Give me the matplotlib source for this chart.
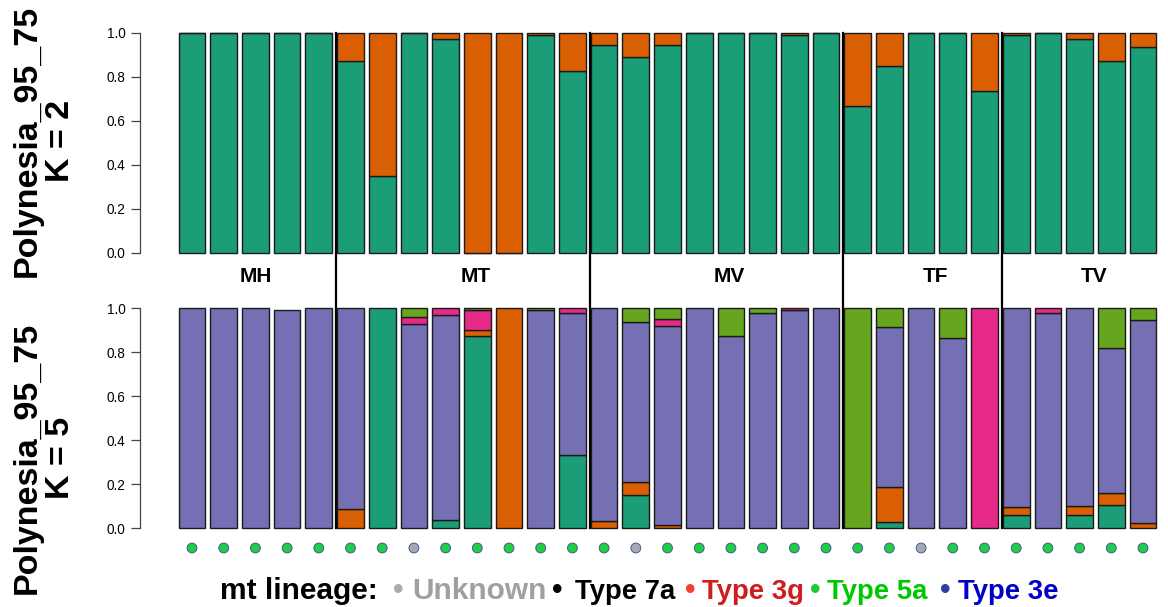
import matplotlib
matplotlib.use("Agg")
import matplotlib.pyplot as plt
import numpy as np

plt.rcParams['font.family'] = ['Liberation Sans', 'DejaVu Sans']

# ---------------- data ----------------
groups = ["MH", "MT", "MV", "TF", "TV"]
group_sizes = [5, 8, 8, 5, 5]

# K = 2 : proportion of cluster 1 (teal); remainder is cluster 2 (orange)
k2_c1 = [1.0, 1.0, 1.0, 1.0, 1.0,
         0.873, 0.351, 1.0, 0.973, 0.0, 0.0, 0.99, 0.829,
         0.947, 0.889, 0.944, 1.0, 1.0, 1.0, 0.99, 1.0,
         0.668, 0.849, 1.0, 1.0, 0.736,
         0.992, 1.0, 0.973, 0.873, 0.936]

# K = 5 : cluster proportions (teal, orange, purple, pink, green)
k5_teal = [0, 0, 0, 0, 0,
           0, 1.0, 0, 0.035, 0.871, 0, 0, 0.331,
           0, 0.149, 0, 0, 0, 0, 0, 0,
           0, 0.026, 0, 0, 0,
           0.059, 0, 0.061, 0.105, 0]
k5_orange = [0, 0, 0, 0, 0,
             0.085, 0, 0, 0, 0.030, 1.0, 0, 0,
             0.033, 0.062, 0.015, 0, 0, 0, 0, 0,
             0, 0.162, 0, 0, 0,
             0.038, 0, 0.041, 0.055, 0.024]
k5_purple = [1.0, 1.0, 1.0, 0.989, 1.0,
             0.915, 0, 0.927, 0.935, 0, 0, 0.991, 0.645,
             0.967, 0.727, 0.901, 1.0, 0.875, 0.977, 0.992, 1.0,
             0, 0.725, 1.0, 0.863, 0,
             0.903, 0.976, 0.898, 0.658, 0.921]
k5_pink = [0, 0, 0, 0, 0,
           0, 0, 0.032, 0.030, 0.091, 0, 0, 0.024,
           0, 0, 0.035, 0, 0, 0, 0.008, 0,
           0, 0, 0, 0, 1.0,
           0, 0.024, 0, 0, 0]
k5_green = [0, 0, 0, 0, 0.0,
            0, 0, 0.041, 0, 0.008, 0, 0.009, 0,
            0, 0.062, 0.049, 0, 0.125, 0.023, 0, 0,
            1.0, 0.087, 0, 0.137, 0,
            0, 0, 0, 0.182, 0.055]

lineage = ["Type 5a"] * 31
lineage[7] = "Unknown"
lineage[14] = "Unknown"
lineage[23] = "Unknown"

legend_labels = ["Unknown", "Type 7a", "Type 3g", "Type 5a", "Type 3e"]

# ---------------- style ----------------
pal = ["#1B9E77", "#D95F02", "#7570B3", "#E7298A", "#66A61E"]
lin_col = {"Unknown": "#A8A8B0", "Type 5a": "#22CC44"}

W, H = 1168, 607
fig = plt.figure(figsize=(W / 100, H / 100), dpi=100)

n = len(k2_c1)
x = np.arange(n)
px0, pstep = 192.0, 31.7
xlim = ((140 - px0) / pstep, (1160 - px0) / pstep)
bw = 0.84

ax1 = fig.add_axes([140 / W, 1 - 253 / H, 1020 / W, 220 / H])
ax2 = fig.add_axes([140 / W, 1 - 528 / H, 1020 / W, 220 / H])

def style(ax):
    ax.set_xlim(*xlim)
    ax.set_ylim(0, 1)
    for s in ["top", "right", "bottom"]:
        ax.spines[s].set_visible(False)
    ax.spines["left"].set_bounds(0, 1)
    ax.spines["left"].set_color("#444444")
    ax.spines["left"].set_linewidth(0.9)
    ax.spines["left"].set_position(("data", xlim[0]))
    ax.set_xticks([])
    ax.set_yticks([0, 0.2, 0.4, 0.6, 0.8, 1.0])
    ax.set_yticklabels(["0.0", "0.2", "0.4", "0.6", "0.8", "1.0"])
    ax.tick_params(axis="y", length=6.5, width=0.9, color="#444444",
                   labelsize=9.8, pad=4)
    ax.patch.set_visible(False)

style(ax1)
style(ax2)

ek = dict(edgecolor="#1a1a1a", linewidth=1.0, clip_on=False)

# K=2
c1 = np.array(k2_c1)
ax1.bar(x, c1, bw, color=pal[0], **ek)
ax1.bar(x, 1 - c1, bw, bottom=c1, color=pal[1], **ek)

# K=5
bottom = np.zeros(n)
for vals, col in zip([k5_teal, k5_orange, k5_purple, k5_pink, k5_green], pal):
    v = np.array(vals, dtype=float)
    mask = v > 0
    ax2.bar(x[mask], v[mask], bw, bottom=bottom[mask], color=col, **ek)
    bottom += v

# separators
bounds = np.cumsum(group_sizes)[:-1] - 0.5 + 0.05
y_low = (253 - 528) / 220
for b in bounds:
    ax1.plot([b, b], [1.0, y_low], color="black", lw=1.6, clip_on=False, zorder=5)

# group labels
starts = np.concatenate([[0], np.cumsum(group_sizes)[:-1]])
for i, (g, s, sz) in enumerate(zip(groups, starts, group_sizes)):
    cx = s + (sz - 1) / 2 + (0.45 if i > 0 else 0.0)
    ax1.text(cx, (253 - 277) / 220, g, ha="center", va="center",
             fontsize=15, fontweight="bold", clip_on=False)

# lineage dots
ydot = (528 - 548) / 220
ax2.scatter(x, [ydot] * n, s=50, c=[lin_col[l] for l in lineage],
            edgecolors="#3A5FA0", linewidths=0.7, clip_on=False, zorder=6)

# y labels
fig.text(44 / W, 1 - 141 / H, "Polynesia_95_75\nK = 2", rotation=90,
         ha="center", va="center", multialignment="center",
         fontsize=24.5, fontweight="bold", linespacing=1.12)
fig.text(44 / W, 1 - 458 / H, "Polynesia_95_75\nK = 5", rotation=90,
         ha="center", va="center", multialignment="center",
         fontsize=24.5, fontweight="bold", linespacing=1.12)

# legend line
yb = 1 - 599 / H
fig.text(220 / W, yb, "mt lineage:", ha="left", va="baseline",
         fontsize=21.5, fontweight="bold", color="black")
bullet_cols = ["#AAAAAA", "black", "#F04035", "#22C83C", "#2C3E9E"]
text_cols = ["#A0A0A0", "black", "#D01C1C", "#00C800", "#0000C8"]
bullet_px = [398, 557, 690, 815, 945]
text_px = [412, 575, 702, 827, 958]
text_fs = [21.5, 19.8, 19.8, 19.8, 19.8]
for lab, bc, tc, bp, tp, fs in zip(legend_labels, bullet_cols, text_cols,
                                   bullet_px, text_px, text_fs):
    fig.text(bp / W, yb, "\u2022", ha="center", va="baseline", fontsize=21.5,
             fontweight="bold", color=bc)
    fig.text(tp / W, yb, lab, ha="left", va="baseline", fontsize=fs,
             fontweight="bold", color=tc)

fig.savefig("out.png", dpi=100)
